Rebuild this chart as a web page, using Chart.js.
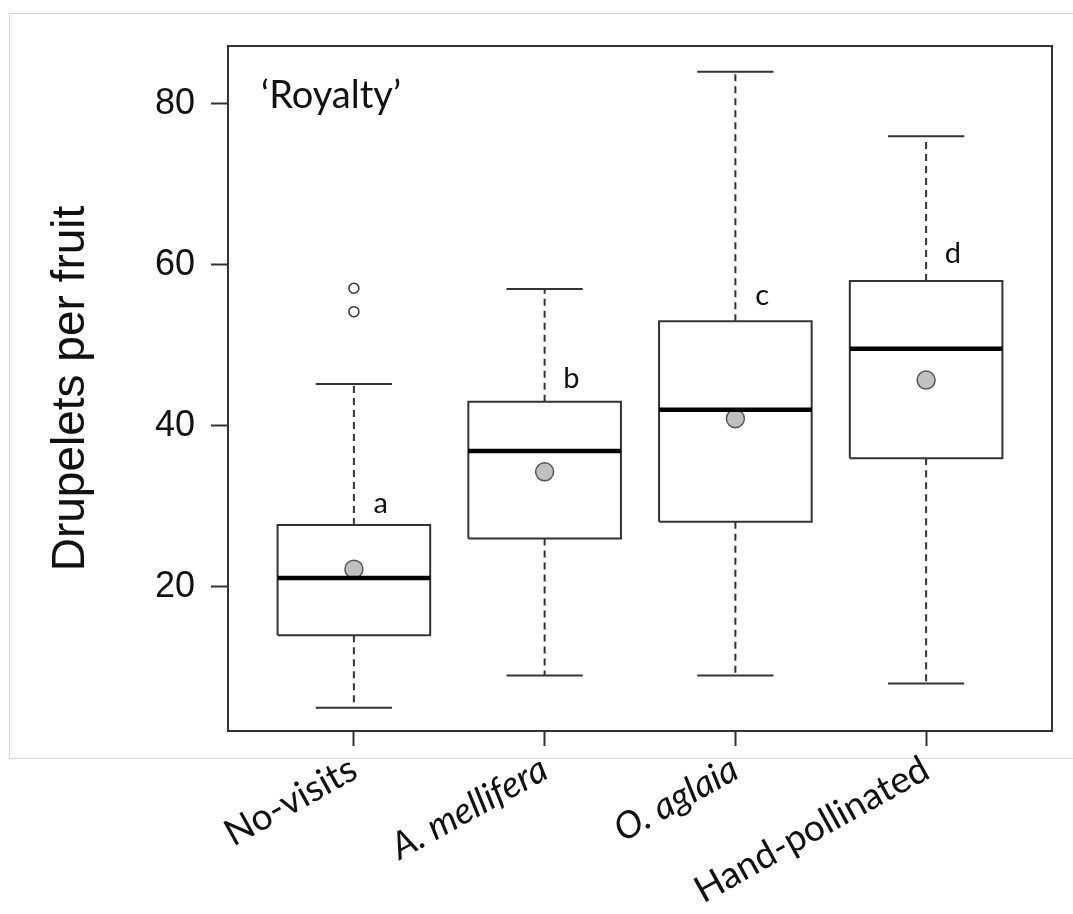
<!DOCTYPE html>
<html lang="en">
<head>
<meta charset="UTF-8">
<title>Drupelets per fruit - Royalty</title>
<script src="https://cdn.jsdelivr.net/npm/chart.js@4.4.1/dist/chart.umd.min.js"></script>
<style>
  html, body { margin: 0; padding: 0; background: #fff; }
</style>
</head>
<body>
<canvas id="boxChart" width="1073" height="914"></canvas>
<script>
// groups and box plot statistics
const categories = ['No-visits', 'A. mellifera', 'O. aglaia', 'Hand-pollinated'];
const italicLabels = [false, true, true, false];
const lowerWhisker = [5, 9, 9, 8];
const q1 = [14, 26, 28.1, 36];
const median = [21.1, 36.9, 42, 49.6];
const q3 = [27.7, 43, 53, 58];
const upperWhisker = [45.2, 57, 84, 76];
const means = [22.2, 34.3, 40.9, 45.7];
const outliers = [[54.2, 57.1], [], [], []];
const groupLetters = ['a', 'b', 'c', 'd'];
const letterY = [29.2, 44.7, 55.0, 60.2];
const yTicks = [20, 40, 60, 80];

const HALF_BOX = 0.4, HALF_CAP = 0.2;
const ink = '#333333';

// helper: list of segments -> one dataset with gaps between pieces
function pieces(list) {
  const out = [];
  list.forEach(seg => {
    seg.forEach(p => out.push({ x: p[0], y: p[1] }));
    out.push({ x: seg[seg.length - 1][0], y: null });
  });
  return out;
}

const boxes = pieces(categories.map((c, i) => {
  const x = i + 1;
  return [[x - HALF_BOX, q1[i]], [x + HALF_BOX, q1[i]], [x + HALF_BOX, q3[i]],
          [x - HALF_BOX, q3[i]], [x - HALF_BOX, q1[i]]];
}));
const medians = pieces(categories.map((c, i) => [[i + 1 - HALF_BOX, median[i]], [i + 1 + HALF_BOX, median[i]]]));
const whiskers = pieces(categories.flatMap((c, i) => [
  [[i + 1, q3[i]], [i + 1, upperWhisker[i]]],
  [[i + 1, q1[i]], [i + 1, lowerWhisker[i]]]
]));
const caps = pieces(categories.flatMap((c, i) => [
  [[i + 1 - HALF_CAP, upperWhisker[i]], [i + 1 + HALF_CAP, upperWhisker[i]]],
  [[i + 1 - HALF_CAP, lowerWhisker[i]], [i + 1 + HALF_CAP, lowerWhisker[i]]]
]));
const meanPts = means.map((m, i) => ({ x: i + 1, y: m }));
const outlierPts = outliers.flatMap((arr, i) => arr.map(v => ({ x: i + 1, y: v })));

const lineDs = (data, width, dash, order, color) => ({
  type: 'line', data, borderColor: color || ink, borderWidth: width, borderDash: dash,
  pointRadius: 0, fill: false, spanGaps: false, tension: 0, order
});

const decorations = {
  id: 'decorations',
  beforeDraw(chart) {
    const c = chart.ctx;
    c.save();
    c.strokeStyle = '#d6d6d6';
    c.lineWidth = 1;
    c.strokeRect(9.5, 13.5, chart.width + 10, 745);
    c.restore();
  },
  afterDatasetsDraw(chart) {
    const { ctx, chartArea: a, scales: { x, y } } = chart;
    ctx.save();
    ctx.strokeStyle = ink;
    ctx.lineWidth = 2;
    ctx.strokeRect(a.left, a.top, a.right - a.left, a.bottom - a.top);

    ctx.fillStyle = '#111';
    ctx.font = '38px Lato';
    ctx.textBaseline = 'alphabetic';
    ctx.textAlign = 'left';
    ctx.fillText('\u2018Royalty\u2019', a.left + 33, a.top + 62);

    ctx.font = '29px Lato';
    ctx.textAlign = 'center';
    groupLetters.forEach((t, i) => {
      ctx.fillText(t, x.getPixelForValue(i + 1.14), y.getPixelForValue(letterY[i]));
    });
    ctx.restore();
  }
};

new Chart(document.getElementById('boxChart'), {
  type: 'scatter',
  data: {
    datasets: [
      lineDs(medians, 4.5, [], 0, '#000'),
      { type: 'scatter', data: meanPts, pointRadius: 9, pointBackgroundColor: '#c0c0c0',
        pointBorderColor: '#555', pointBorderWidth: 1.5, order: 1 },
      lineDs(boxes, 2, [], 2),
      lineDs(whiskers, 2, [7, 5], 3),
      lineDs(caps, 2, [], 4),
      { type: 'scatter', data: outlierPts, pointRadius: 5, pointBackgroundColor: '#fff',
        pointBorderColor: ink, pointBorderWidth: 1.5, order: 5 }
    ]
  },
  options: {
    responsive: false,
    animation: false,
    layout: { padding: { top: 46, right: 21, bottom: 0, left: 0 } },
    plugins: { legend: { display: false }, tooltip: { enabled: false } },
    scales: {
      x: {
        type: 'linear',
        min: 0.34,
        max: 4.66,
        afterBuildTicks: s => { s.ticks = categories.map((c, i) => ({ value: i + 1 })); },
        afterFit: s => { s.height = 183; },
        border: { display: false },
        grid: { drawOnChartArea: false, tickLength: 15, tickColor: ink, tickWidth: 2 },
        ticks: {
          autoSkip: false,
          minRotation: 29,
          maxRotation: 29,
          padding: 1,
          color: '#111',
          font: ctx => ({ family: 'Lato', size: 37, style: italicLabels[ctx.index] ? 'italic' : 'normal' }),
          callback: (v, i) => categories[i]
        }
      },
      y: {
        type: 'linear',
        min: 2.1,
        max: 87.2,
        afterBuildTicks: s => { s.ticks = yTicks.map(v => ({ value: v })); },
        afterFit: s => { s.width = 228; },
        border: { display: false },
        grid: { drawOnChartArea: false, tickLength: 17, tickColor: ink, tickWidth: 2 },
        ticks: {
          padding: 16,
          color: '#111',
          font: { family: 'Liberation Sans', size: 36 }
        },
        title: {
          display: true,
          text: 'Drupelets per fruit',
          color: '#111',
          font: { family: 'Liberation Sans', size: 46 },
          padding: { top: 44, bottom: 0 }
        }
      }
    }
  },
  plugins: [decorations]
});
</script>
</body>
</html>
